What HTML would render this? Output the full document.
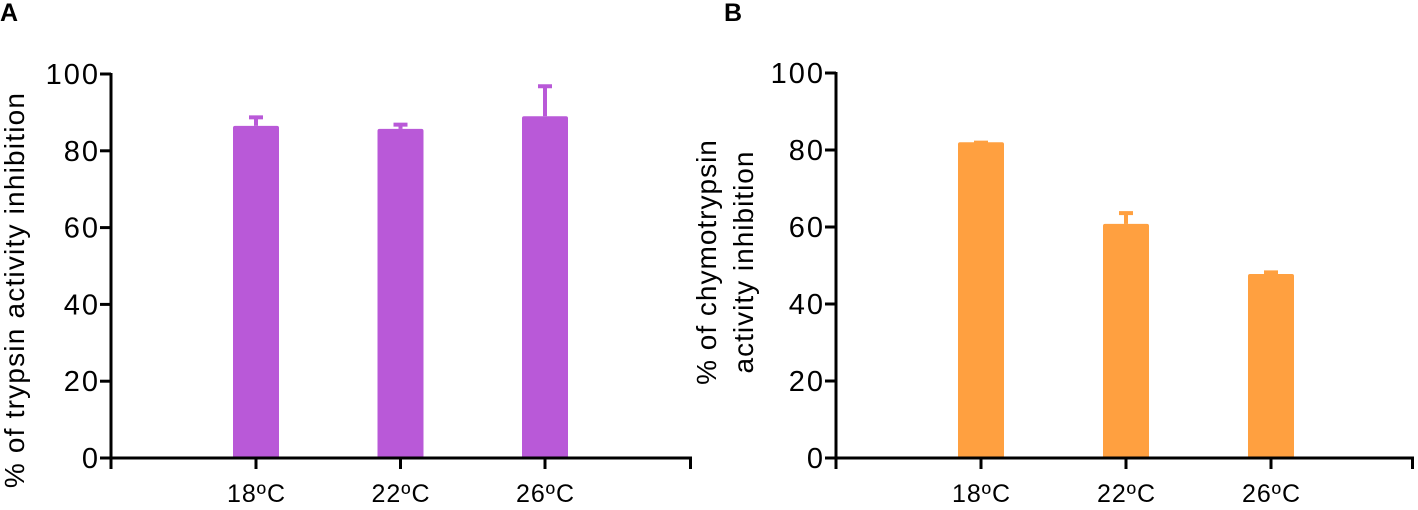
<!DOCTYPE html>
<html><head><meta charset="utf-8"><style>
body{margin:0;background:#fff;width:1418px;height:505px;overflow:hidden}
svg{font-family:"Liberation Sans",Arial,sans-serif}
</style></head><body>
<svg id="c" width="1418" height="505"></svg>
<script>
const categories=["18ºC","22ºC","26ºC"];
const trypsinValues=[86.5,85.7,89];
const trypsinErrors=[2.6,1.5,8.2];
const chymoValues=[82,60.8,47.8];
const chymoErrors=[0.3,3.2,0.8];
const yTicks=[0,20,40,60,80,100];
const NS="http://www.w3.org/2000/svg";
const svg=document.getElementById('c');
function mk(tag,attrs,parent){const e=document.createElementNS(NS,tag);for(const k in attrs)e.setAttribute(k,attrs[k]);(parent||svg).appendChild(e);return e;}
function panel(p){
  const g=mk('g',{});
  
  
  const y=v=>p.y0-(v/100)*(p.y0-p.y100);
  const x=i=>p.x0+p.first+i*p.step;
  p.values.forEach((v,i)=>{
    const cx=x(i);
    const top=y(p.values[i]), et=y(p.values[i]+p.errors[i]);
    const ln=mk('line',{x1:cx,x2:cx,y1:top,y2:et,stroke:p.color,'stroke-width':4},g);
    
    
    const cap=mk('line',{x1:cx-7,x2:cx+7,y1:et+1.5,y2:et+1.5,stroke:p.color,'stroke-width':4},g);
    
    
    const r=mk('rect',{x:cx-23,y:top,width:46,height:p.y0-top,fill:p.color,rx:2},g);
    
    
    const t=mk('text',{x:cx+0.5,y:p.y0+44,'text-anchor':'middle','font-size':25,'letter-spacing':1,fill:'#000'},g);
    t.textContent=categories[i];
    
    
    mk('line',{x1:cx,x2:cx,y1:p.y0,y2:p.y0+11,stroke:'#000','stroke-width':3},g);
  });
  const ya=mk('line',{x1:p.x0,x2:p.x0,y1:p.y100-1,y2:p.y0+11,stroke:'#000','stroke-width':3},g);
  
  
  const xa=mk('line',{x1:p.x0,x2:p.x1,y1:p.y0,y2:p.y0,stroke:'#000','stroke-width':3},g);
  
  
  mk('line',{x1:p.x1-1.5,x2:p.x1-1.5,y1:p.y0,y2:p.y0+11,stroke:'#000','stroke-width':3},g);
  yTicks.forEach(v=>{
    mk('line',{x1:p.x0-11,x2:p.x0,y1:y(v),y2:y(v),stroke:'#000','stroke-width':3},g);
    const t=mk('text',{x:p.x0-11,y:y(v)+10,'text-anchor':'end','font-size':29,'letter-spacing':2,fill:'#000'},g);
    t.textContent=v;
    
    
  });
  p.title.forEach((line,k)=>{
    const tx=p.titleX[k];
    const cy=p.titleY;
    const t=mk('text',{x:tx,y:cy,'text-anchor':'middle','font-size':28,'letter-spacing':p.ls,fill:'#000',transform:`rotate(-90 ${tx} ${cy})`},g);
    t.textContent=line;
    
    
  });
  const L=mk('text',{x:p.letterX,y:21,'font-size':25,'font-weight':'bold',fill:'#000'},g);
  L.textContent=p.letter;
  
  
}
panel({name:'panel-a-trypsin',x0:111,x1:692,y0:458,y100:74,first:145,step:144.5,values:trypsinValues,errors:trypsinErrors,color:'#b959d8',title:['% of trypsin activity inhibition'],titleX:[24],titleY:290,ls:1.2,letter:'A',letterX:0});
panel({name:'panel-b-chymotrypsin',x0:836,x1:1414,y0:458,y100:73,first:145,step:145,values:chymoValues,errors:chymoErrors,color:'#ffa040',title:['% of chymotrypsin','activity inhibition'],titleX:[716,753],titleY:262,ls:1,letter:'B',letterX:724});
</script>
</body></html>
